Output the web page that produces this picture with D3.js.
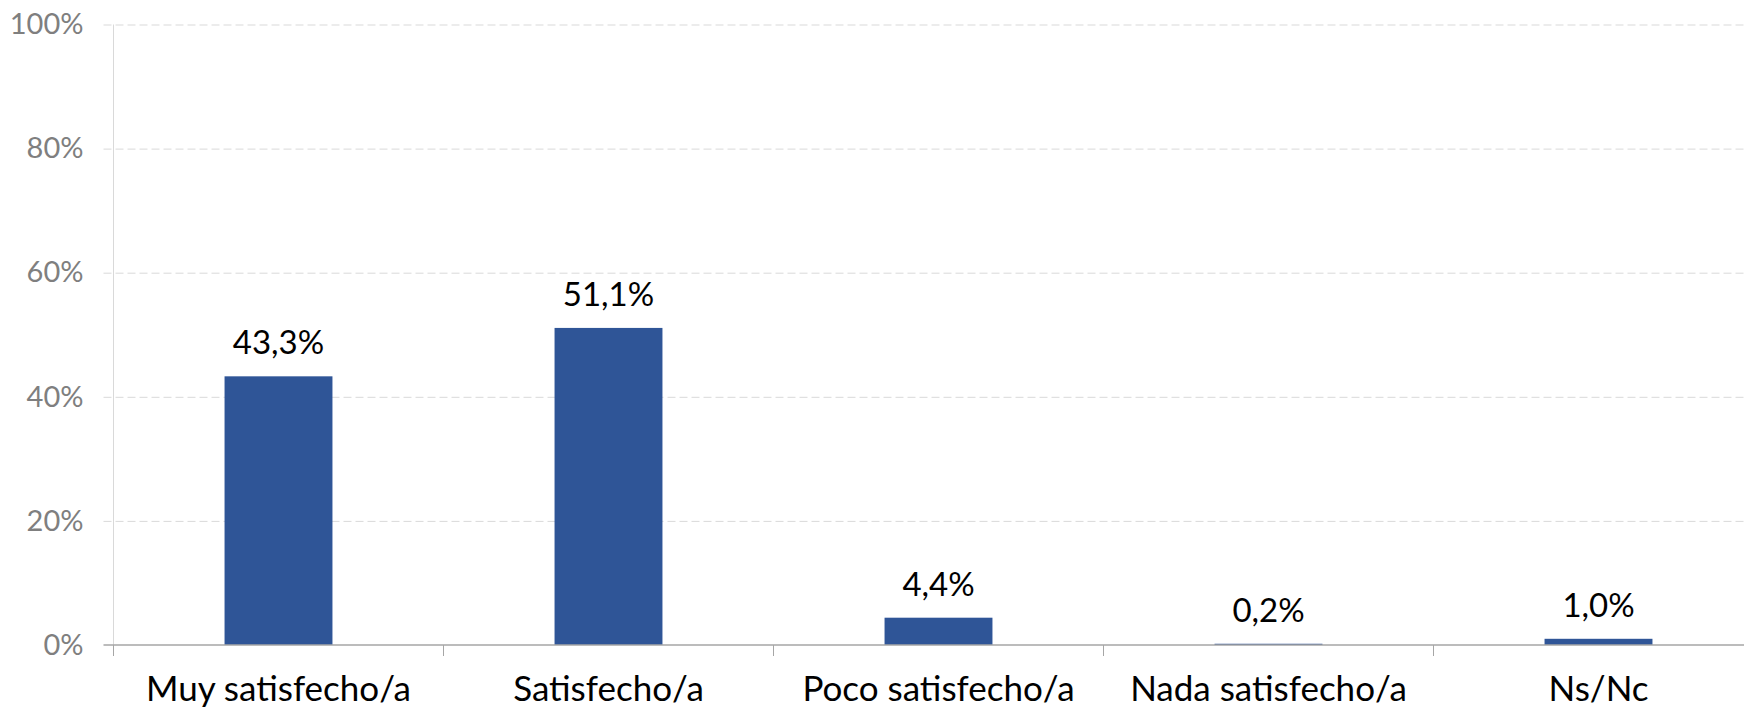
<!DOCTYPE html>
<html lang="es">
<head>
    <meta charset="UTF-8">
    <title>Satisfacción</title>
    <style>
        body {
            margin: 0;
            background-color: #fff;
        }

        #chart {
            display: block;
        }

        .grid line {
            stroke: #d9d9d9;
            stroke-dasharray: 8, 4;
        }

        .grid text {
            fill: #7f7f7f;
            font-family: Lato, "Open Sans", sans-serif;
            font-size: 29px;
        }

        .xaxis text {
            fill: #000;
            font-family: Lato, "Open Sans", sans-serif;
            font-size: 35px;
        }

        .value-label {
            fill: #000;
            font-family: Lato, "Open Sans", sans-serif;
            font-size: 33px;
        }
    </style>
</head>
<body>
    <svg id="chart" width="1744" height="711"></svg>

    <script src="https://cdnjs.cloudflare.com/ajax/libs/d3/7.8.5/d3.min.js"></script>
    <script>
        const categories = ['Muy satisfecho/a', 'Satisfecho/a', 'Poco satisfecho/a', 'Nada satisfecho/a', 'Ns/Nc'];
        const values = [0.433, 0.511, 0.044, 0.002, 0.010];
        const yTicks = [0, 0.2, 0.4, 0.6, 0.8, 1.0];

        const svg = d3.select('#chart');

        // the plot runs past the right edge, the last slot is cut like in the original
        const plotLeft = 113.5;
        const plotRight = 1763.5;
        const plotTop = 24.5;
        const plotBottom = 645;

        const x = d3.scaleBand()
            .domain(categories)
            .range([plotLeft, plotRight])
            .padding(0);

        const y = d3.scaleLinear()
            .domain([0, 1])
            .range([plotBottom, plotTop]);

        const es = d3.formatLocale({ decimal: ',', thousands: '.', grouping: [3], currency: ['', ' €'] });
        const fmtValue = es.format('.1%');
        const fmtTick = es.format('.0%');

        // gridlines + y labels
        const grid = svg.append('g')
            .attr('class', 'grid')
            .attr('transform', `translate(${plotLeft},0)`)
            .call(d3.axisLeft(y)
                .tickValues(yTicks)
                .tickFormat(fmtTick)
                .tickSize(-(1744 - plotLeft))
                .tickPadding(30));
        grid.select('.domain').remove();
        grid.selectAll('.tick line').attr('x1', -10);
        grid.selectAll('.tick').filter(d => d === 0).select('line').remove();

        // vertical axis line
        svg.append('line')
            .attr('x1', plotLeft).attr('x2', plotLeft)
            .attr('y1', y(1)).attr('y2', y(0))
            .attr('stroke', '#d9d9d9')
            .attr('stroke-width', 1);

        // bars
        const barW = x.bandwidth() * 0.327;
        svg.append('g')
            .selectAll('rect')
            .data(values)
            .join('rect')
            .attr('x', (d, i) => x(categories[i]) + (x.bandwidth() - barW) / 2)
            .attr('y', d => y(d))
            .attr('width', barW)
            .attr('height', d => y(0) - y(d))
            .attr('fill', '#2f5597');

        // value labels
        svg.append('g')
            .selectAll('text')
            .data(values)
            .join('text')
            .attr('class', 'value-label')
            .attr('x', (d, i) => x(categories[i]) + x.bandwidth() / 2)
            .attr('y', d => y(d) - 22)
            .attr('text-anchor', 'middle')
            .text(d => fmtValue(d));

        // baseline with category ticks at slot boundaries
        svg.append('line')
            .attr('x1', plotLeft - 10).attr('x2', 1744)
            .attr('y1', plotBottom).attr('y2', plotBottom)
            .attr('stroke', '#a6a6a6')
            .attr('stroke-width', 1.5);

        const boundaries = categories.map(c => x(c));
        svg.append('g')
            .selectAll('line')
            .data(boundaries)
            .join('line')
            .attr('x1', d => d).attr('x2', d => d)
            .attr('y1', plotBottom).attr('y2', plotBottom + 11)
            .attr('stroke', '#a6a6a6')
            .attr('stroke-width', 1);

        // category labels
        svg.append('g')
            .attr('class', 'xaxis')
            .selectAll('text')
            .data(categories)
            .join('text')
            .attr('x', d => x(d) + x.bandwidth() / 2)
            .attr('y', 701)
            .attr('text-anchor', 'middle')
            .text(d => d);
    </script>
</body>
</html>
